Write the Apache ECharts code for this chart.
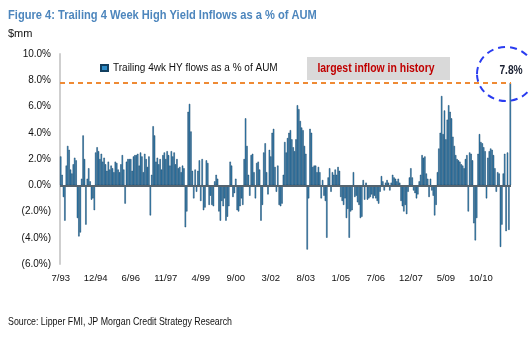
<!DOCTYPE html>
<html>
<head>
<meta charset="utf-8">
<script src="https://cdn.jsdelivr.net/npm/echarts@6/dist/echarts.min.js"></script>
<style>
html,body{margin:0;padding:0;background:#fff;}
#c{width:528px;height:339px;}
</style>
</head>
<body>
<div id="c"></div>
<script>
// Trailing 4wk HY flows as % of AUM, one value per 3-week bucket starting 7/93
const flows1993_1996 = [2.2,0.8,-0.9,-2.7,1.5,3.0,2.7,1.2,0.9,1.6,2.1,1.9,-2.5,-3.9,-3.6,0.5,3.8,2.0,-3.0,0.5,1.3,0.3,-1.1,-1.0,-1.9,2.5,2.9,2.6,2.0,2.4,1.8,2.1,1.6,1.1,1.8,1.2,1.5,1.3,1.0,1.8,1.7,1.2,1.0,1.6,2.3,1.2,-1.4,1.8,2.0,2.0,2.0,1.1,2.2,2.3];
const flows1996_1999 = [2.3,2.4,1.5,2.5,2.2,1.0,2.4,2.0,1.4,2.2,-2.3,0.8,4.5,3.8,1.8,2.1,1.6,2.0,1.2,2.3,2.5,2.0,2.6,2.3,1.5,2.6,2.2,2.5,1.6,2.0,1.3,1.4,1.0,1.5,1.3,-3.2,-2.0,5.6,6.2,4.1,1.1,-1.0,1.2,-0.5,1.1,1.9,-1.2,2.0,-1.9,-1.7,1.9,1.7,-1.5,-0.8];
const flows1999_2002 = [-1.5,-1.6,0.3,0.8,0.5,-2.0,-2.7,-1.2,-1.6,-1.0,-2.7,-2.4,-1.6,1.8,1.5,-0.9,-0.6,0.5,-1.9,-2.0,-1.6,-1.0,-1.5,2.0,5.1,3.0,0.8,-0.8,2.3,2.4,1.0,-1.0,1.7,1.8,1.2,-2.7,-1.5,2.5,3.2,1.0,-0.7,2.7,2.2,4.0,4.3,1.4,-0.5,1.5,-1.5,-1.6,-1.4,0.8,3.3,2.5,3.6,4.0];
const flows2002_2005 = [4.2,3.5,2.9,2.6,3.5,6.1,5.8,4.9,4.4,4.2,3.0,2.4,-4.9,-1.0,4.3,4.0,1.4,1.5,1.5,1.0,1.4,1.0,-1.0,0.4,-0.8,-1.2,-4.0,0.6,1.3,-0.5,1.0,0.8,1.2,0.8,1.4,1.1,-0.9,-1.2,-1.5,-1.0,-2.5,-1.8,-4.0,-2.0,-1.9,1.0,-0.9,-0.8,-1.3,-1.5,-2.5,-2.4,0.4,-1.1,0.2,-1.1];
const flows2005_2009 = [-1.0,-0.9,-0.7,-1.0,-0.8,-1.0,-1.2,-1.4,-0.5,0.7,0.3,-0.4,0.2,0.4,0.2,-0.4,0.2,0.8,0.6,0.5,0.3,0.5,0.2,-1.2,-1.6,-2.0,-1.5,-2.2,-0.5,0.6,1.3,0.6,-0.4,-0.6,-1.0,-0.7,0.3,0.8,2.3,2.1,2.2,0.9,0.5,-0.9,0.5,-0.4,-0.8,-2.3,-1.5,1.0,2.8,4.0,6.8,3.9,5.7,3.5];
const flows2009_2012 = [5.0,6.1,5.6,5.1,3.7,3.0,2.3,2.0,1.9,1.8,1.6,1.5,1.3,2.0,2.3,-2.0,2.5,2.4,1.9,-2.9,-4.2,-2.5,2.4,3.9,3.3,3.2,2.9,2.6,-1.0,2.1,2.6,2.8,2.7,2.3,1.3,-0.5,1.0,0.9,-4.7,-3.0,0.9,2.4,-3.5,2.5,-3.4,7.8];
const tickLabels = ['7/93','12/94','6/96','11/97','4/99','9/00','3/02','8/03','1/05','7/06','12/07','5/09','10/10'];
const seriesName = 'Trailing 4wk HY flows as a % of AUM';
const highLine = 7.8;

const values = [].concat(flows1993_1996, flows1996_1999, flows1999_2002, flows2002_2005, flows2005_2009, flows2009_2012);
const step = 25;
const categories = values.map((v, i) => String(i));
const peak = Math.max.apply(null, values);

const sans = "'Liberation Sans',Arial,sans-serif";

const chart = echarts.init(document.getElementById('c'), null, {renderer: 'canvas'});
chart.setOption({
  animation: false,
  backgroundColor: '#fff',
  legend: {
    data: [seriesName], left: 95, top: 58, icon: 'rect', itemWidth: 7, itemHeight: 6, itemGap: 4,
    textStyle: {fontFamily: sans, fontSize: 10, color: '#111'}
  },
  grid: {left: 60, right: 17, top: 54, bottom: 75, containLabel: false},
  xAxis: {
    type: 'category', data: categories,
    axisLine: {show: false, onZero: false},
    axisTick: {show: false},
    axisLabel: {
      interval: (i) => i % step === 0,
      formatter: (v, i) => (i % step === 0 && tickLabels[i / step]) ? tickLabels[i / step] : '',
      fontFamily: sans, fontSize: 9.5, color: '#111', margin: 9
    },
    splitLine: {show: false}
  },
  yAxis: {
    type: 'value', min: -6, max: 10, interval: 2,
    axisLine: {show: true, lineStyle: {color: '#cfcfcf', width: 2}},
    axisTick: {show: false},
    splitLine: {show: false},
    axisLabel: {
      formatter: (v) => v >= 0 ? v.toFixed(1) + '%' : '(' + (-v).toFixed(1) + '%)',
      fontFamily: sans, fontSize: 10, color: '#111', margin: 9
    }
  },
  series: [{
    name: seriesName, type: 'bar', data: values,
    barCategoryGap: '0%',
    itemStyle: {color: '#2d8cc8', borderColor: '#123f60', borderWidth: 0.5},
    markLine: {
      silent: true, symbol: ['none', 'none'], label: {show: false},
      data: [
        {yAxis: 0, lineStyle: {color: '#55646f', width: 2, type: 'solid'}},
        {yAxis: highLine, lineStyle: {color: '#ef8a34', width: 2, type: [5, 4]}}
      ]
    }
  }],
  graphic: [
    {type: 'text', x: 8, y: 15, scaleX: 0.855, style: {text: 'Figure 4: Trailing 4 Week High Yield Inflows as a % of AUM',
      fill: '#4d86bd', font: "bold 13px " + sans, textAlign: 'left', textVerticalAlign: 'middle'}},
    {type: 'text', x: 8, y: 34, style: {text: '$mm', fill: '#111', font: "11px " + sans, textAlign: 'left', textVerticalAlign: 'middle'}},
    {type: 'rect', shape: {x: 307, y: 57, width: 143, height: 23}, style: {fill: '#d9d9d9'}, z: 10},
    {type: 'text', x: 376, y: 69, scaleX: 0.87, style: {text: 'largest inflow in history', fill: '#c00000',
      font: "bold 12px " + sans, textAlign: 'center', textVerticalAlign: 'middle'}, z: 11},
    {type: 'ellipse', shape: {cx: 506, cy: 74, rx: 29, ry: 27},
     style: {fill: 'none', stroke: '#2a3cf0', lineWidth: 2, lineDash: [7, 5]}, z: 10},
    {type: 'text', x: 511, y: 71, scaleX: 0.85, style: {text: peak.toFixed(1) + '%', fill: '#1c2233',
      font: "bold 12px " + sans, textAlign: 'center', textVerticalAlign: 'middle'}, z: 11},
    {type: 'text', x: 8, y: 322, scaleX: 0.84, style: {text: 'Source: Lipper FMI, JP Morgan Credit Strategy Research', fill: '#111',
      font: "10.5px " + sans, textAlign: 'left', textVerticalAlign: 'middle'}, z: 11}
  ]
});
</script>
</body>
</html>
